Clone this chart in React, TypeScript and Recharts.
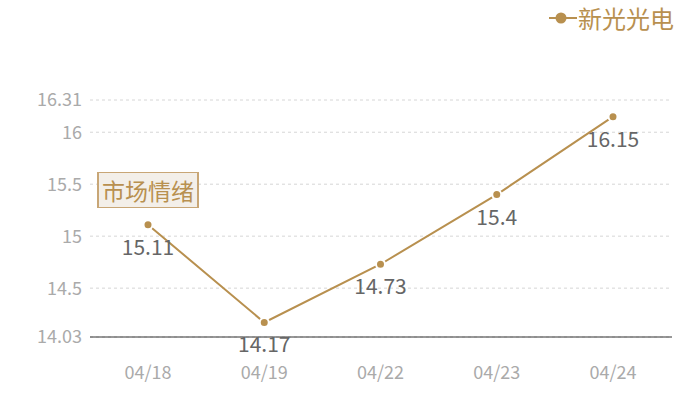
import React from 'react';
import { LineChart, Line, XAxis, YAxis, CartesianGrid, LabelList } from 'recharts';

const dates = ['04/18', '04/19', '04/22', '04/23', '04/24'];
const prices = [15.11, 14.17, 14.73, 15.4, 16.15];
const yTicks = [14.03, 14.5, 15, 15.5, 16, 16.31];
const seriesName = '新光光电';
const badgeText = '市场情绪';

const data = dates.map((d, i) => ({ date: d, price: prices[i] }));

const GOLD = '#b8904f';
const FONT = '"Noto Sans CJK SC", "Noto Sans", sans-serif';

const PointLabel = (props: any) => {
  const { x, y, value } = props;
  return (
    <text x={x} y={y + 21} textAnchor="middle" dominantBaseline="central" fontSize={21} fill="#666" fontFamily={FONT}>
      {value}
    </text>
  );
};

const App: React.FC = () => {
  return (
    <div style={{ position: 'fixed', left: 0, top: 0, width: 700, height: 400, background: '#fff', fontFamily: FONT }}>
      <LineChart width={700} height={400} data={data} margin={{ top: 100, right: 28, left: 0, bottom: 23 }}>
        <CartesianGrid vertical={false} strokeDasharray="3 3" stroke="#d6d6d6" />
        <XAxis
          dataKey="date"
          axisLine={{ stroke: '#333' }}
          tickLine={false}
          tickMargin={23}
          height={40}
          padding={{ left: 58, right: 59 }}
          tick={{ fontSize: 18, fill: '#aaa', fontFamily: FONT }}
        />
        <YAxis
          domain={[14.03, 16.31]}
          ticks={yTicks}
          width={90}
          axisLine={false}
          tickLine={false}
          interval={0}
          tick={{ fontSize: 18, fill: '#aaa', fontFamily: FONT }}
        />
        <Line
          dataKey="price"
          name={seriesName}
          stroke={GOLD}
          strokeWidth={2}
          dot={{ r: 4.5, fill: GOLD, stroke: '#fff', strokeWidth: 2 }}
          isAnimationActive={false}
        >
          <LabelList dataKey="price" content={<PointLabel />} />
        </Line>
      </LineChart>

      <div style={{ position: 'absolute', left: 549, top: 4, height: 28, display: 'flex', alignItems: 'center' }}>
        <svg width={28} height={28}>
          <line x1={0} y1={14} x2={28} y2={14} stroke={GOLD} strokeWidth={2} />
          <circle cx={12} cy={14} r={5.5} fill={GOLD} />
        </svg>
        <span style={{ fontSize: 24, color: GOLD, marginLeft: 1, lineHeight: '28px' }}>{seriesName}</span>
      </div>

      <div
        style={{
          position: 'absolute',
          left: 97,
          top: 172,
          width: 98,
          height: 34,
          background: '#f3efe9',
          border: '1px solid #c8a676',
          borderLeftWidth: 2,
          borderRightWidth: 2,
          color: GOLD,
          fontSize: 23,
          lineHeight: '34px',
          textAlign: 'center',
          whiteSpace: 'nowrap',
        }}
      >
        {badgeText}
      </div>
    </div>
  );
};

export default App;
